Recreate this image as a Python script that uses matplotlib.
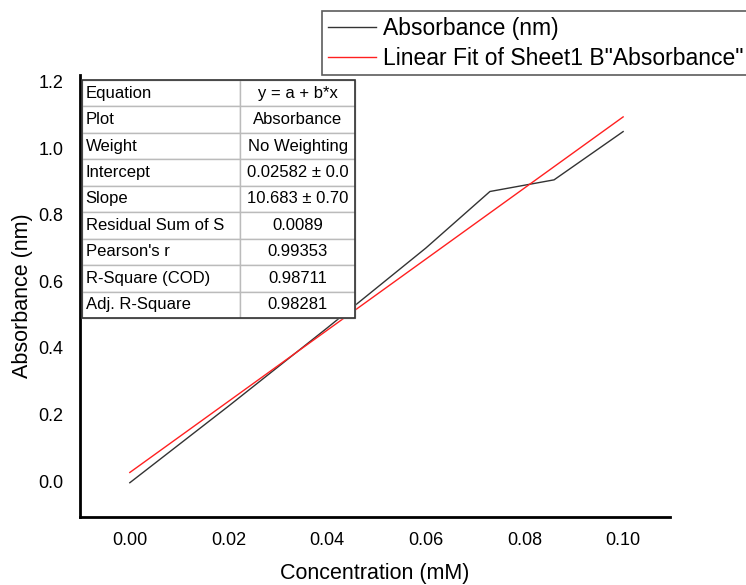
import matplotlib
matplotlib.use("Agg")
import matplotlib.pyplot as plt
import numpy as np
from matplotlib.patches import Rectangle

plt.rcParams['font.family'] = ['Liberation Sans', 'DejaVu Sans']

# Data
concentration = [0.0, 0.02, 0.04, 0.06, 0.073, 0.086, 0.1]
absorbance = [-0.005, 0.225, 0.46, 0.70, 0.87, 0.905, 1.05]
fit_intercept = 0.02582
fit_slope = 10.683
fit_x = [0.0, 0.1]

xticks = [0.00, 0.02, 0.04, 0.06, 0.08, 0.10]
yticks = [0.0, 0.2, 0.4, 0.6, 0.8, 1.0, 1.2]

table_labels = ["Equation", "Plot", "Weight", "Intercept", "Slope",
                "Residual Sum of S", "Pearson's r", "R-Square (COD)", "Adj. R-Square"]
table_values = ["y = a + b*x", "Absorbance", "No Weighting", "0.02582 ± 0.0",
                "10.683 ± 0.70", "0.0089", "0.99353", "0.98711", "0.98281"]

fig = plt.figure(figsize=(7.46, 5.85), dpi=100)
ax = fig.add_axes([80/746, 1-517/585, 590/746, 442/585])

l1, = ax.plot(concentration, absorbance, color='#333333', lw=1.0, label='Absorbance (nm)')
fy = [fit_intercept + fit_slope * x for x in fit_x]
l2, = ax.plot(fit_x, fy, color='#ff2020', lw=1.0, label='Linear Fit of Sheet1 B"Absorbance"')

ax.set_xlim(-0.0101, 0.1095)
ax.set_ylim(-0.108, 1.22)
ax.set_xticks(xticks)
ax.set_xticklabels([f"{v:.2f}" for v in xticks])
ax.set_yticks(yticks)
ax.set_yticklabels([f"{v:.1f}" for v in yticks])
ax.tick_params(length=0, labelsize=13, pad=11)
ax.tick_params(axis='y', pad=12)
for s in ['top', 'right']:
    ax.spines[s].set_visible(False)
for s in ['left', 'bottom']:
    ax.spines[s].set_linewidth(2)
ax.set_xlabel('Concentration (mM)', fontsize=15.5, labelpad=10)
ax.set_ylabel('Absorbance (nm)', fontsize=15.5, labelpad=4)

cells = [[a, b] for a, b in zip(table_labels, table_values)]
tab = ax.table(cellText=cells, colWidths=[0.58, 0.42],
               bbox=[0.003, 0.450, 0.463, 0.539], zorder=5)
tab.auto_set_font_size(False)
tab.set_fontsize(12)
for (r, c), cell in tab.get_celld().items():
    cell.set_edgecolor('#bbbbbb')
    cell.set_linewidth(1.0)
    cell.set_facecolor('white')
    cell.get_text().set_ha('left' if c == 0 else 'center')
    if c == 0:
        cell.PAD = 0.025
ax.add_patch(Rectangle((0.003, 0.450), 0.463, 0.539, transform=ax.transAxes,
                       fill=False, edgecolor='#333333', lw=1.2, zorder=6, clip_on=False))

leg = fig.legend(handles=[l1, l2], loc='upper left',
                 bbox_to_anchor=(322/746, 1-11/585), fontsize=16.5,
                 frameon=True, fancybox=False, edgecolor='#333333',
                 handlelength=2.1, borderpad=0.25, labelspacing=0.3,
                 handletextpad=0.3, borderaxespad=0.0)
leg.get_frame().set_linewidth(1.2)

fig.savefig('out.png', dpi=100)
